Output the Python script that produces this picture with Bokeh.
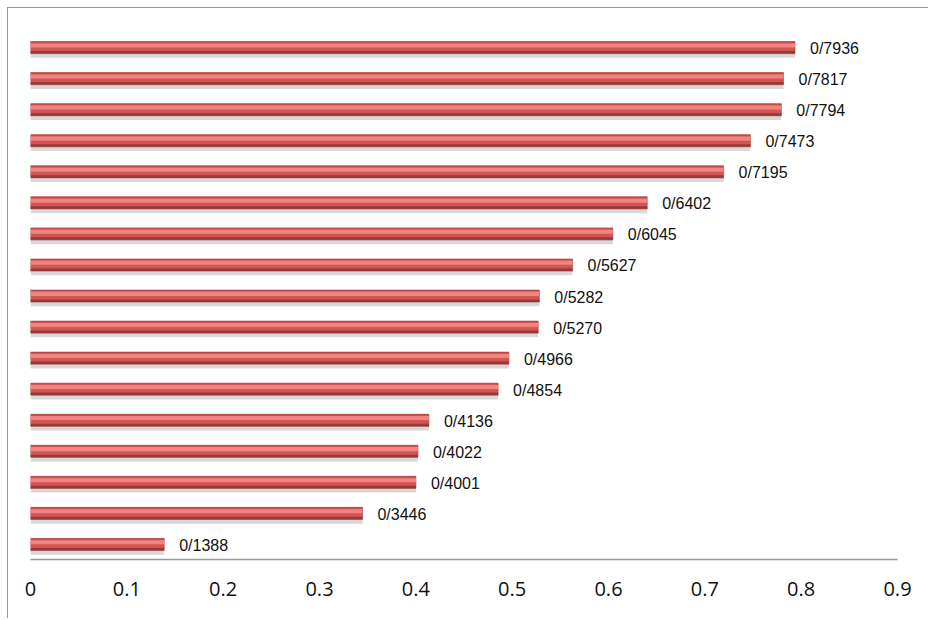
from bokeh.plotting import figure
from bokeh.models import ColumnDataSource, FixedTicker, Range1d
from bokeh.embed import file_html
from bokeh.resources import INLINE
from bokeh.core.properties import value

# Data (top to bottom as in the chart)
values = [0.7936, 0.7817, 0.7794, 0.7473, 0.7195, 0.6402, 0.6045, 0.5627,
          0.5282, 0.5270, 0.4966, 0.4854, 0.4136, 0.4022, 0.4001, 0.3446, 0.1388]
labels = ["0/7936", "0/7817", "0/7794", "0/7473", "0/7195", "0/6402", "0/6045", "0/5627",
          "0/5282", "0/5270", "0/4966", "0/4854", "0/4136", "0/4022", "0/4001", "0/3446", "0/1388"]
tick_values = [0, 0.1, 0.2, 0.3, 0.4, 0.5, 0.6, 0.7, 0.8, 0.9]
tick_labels = ["0", "0.1", "0.2", "0.3", "0.4", "0.5", "0.6", "0.7", "0.8", "0.9"]

n = len(values)
pos = [n - i for i in range(n)]  # top bar highest

src = ColumnDataSource(dict(
    x=values,
    y=pos,
    y_shadow=[p - 0.13 for p in pos],
    y_hi=[p + 0.07 for p in pos],
    y_lo=[p - 0.15 for p in pos],
    y_top=[p + 0.18 for p in pos],
    lab=labels,
))

p = figure(width=921, height=611, output_backend="svg", toolbar_location=None,
           x_range=Range1d(0, 0.9), y_range=Range1d(0.516, 18.26),
           min_border_left=22, min_border_right=32, min_border_top=0, min_border_bottom=60,
           styles={"margin-left": "7px", "margin-top": "7px",
                   "border-left": "1px solid #9a9a9a", "border-top": "1px solid #9a9a9a"})

p.background_fill_color = "white"
p.border_fill_color = "white"
p.outline_line_color = None
p.xgrid.visible = False
p.ygrid.visible = False
p.yaxis.visible = False

# shadow
p.hbar(y="y_shadow", right="x", left=0, height=0.4, source=src,
       fill_color="#c8c8c8", fill_alpha=0.7, line_color=None)
# main bar
p.hbar(y="y", right="x", left=0, height=0.39, source=src,
       fill_color="#d05654", line_color="#a84444", line_width=0.6)
# highlight band
p.hbar(y="y_hi", right="x", left=0, height=0.13, source=src,
       fill_color="#f38280", line_color=None)
# dark lower band
p.hbar(y="y_lo", right="x", left=0, height=0.08, source=src,
       fill_color="#8e3434", line_color=None, fill_alpha=0.85)
# thin top edge
p.hbar(y="y_top", right="x", left=0, height=0.03, source=src,
       fill_color="#b34a48", line_color=None)

# value labels
p.text(x="x", y="y", text="lab", source=src, x_offset=15, y_offset=1,
       text_font=value("Liberation Sans"), text_font_size="16px",
       text_color="#111111", text_baseline="middle", text_align="left")

ax = p.xaxis[0]
ax.ticker = FixedTicker(ticks=tick_values)
ax.major_label_overrides = {v: t for v, t in zip(tick_values, tick_labels)}
ax.axis_line_color = "#999999"
ax.axis_line_width = 1.5
ax.major_tick_line_color = None
ax.minor_tick_line_color = None
ax.major_label_standoff = 16
ax.major_label_text_font = "Open Sans"
ax.major_label_text_font_size = "20px"
ax.major_label_text_color = "#111111"

open("out.html", "w").write(file_html(p, INLINE))
